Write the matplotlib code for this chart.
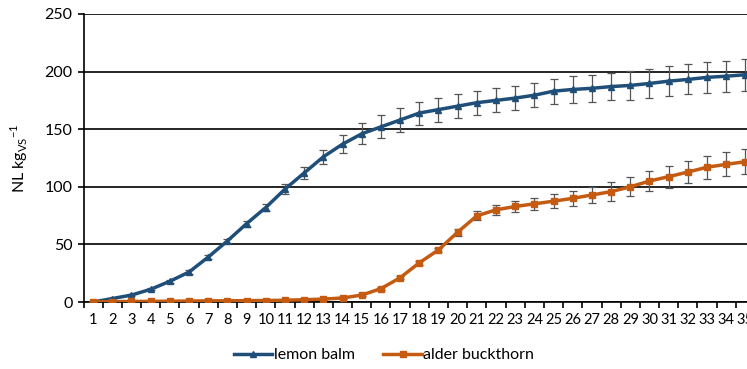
import matplotlib.pyplot as plt
from matplotlib.lines import Line2D
import numpy as np

plt.rcParams['font.family'] = ['Lato', 'DejaVu Sans']

days = list(range(1, 36))
lemon_balm = [0, 3, 6, 11, 18, 26, 39, 53, 68, 82, 98, 112, 126, 137, 146,
              152, 158, 164, 167, 170, 173, 175, 177, 179.5, 183, 184.5, 185.5, 187, 188, 189.7,
              191.7, 193.2, 195, 196, 197.3]
lemon_err = [0.3, 0.5, 0.8, 1, 1.2, 1.5, 1.8, 2, 2.5, 3, 4, 5, 6, 8, 9,
             10, 10, 10, 10.5, 10.5, 10.5, 10.5, 10.5, 10.5, 11, 11.5, 11.5, 12, 12.3, 12.6,
             12.9, 13, 13.4, 13.6, 14]
alder = [0, 0.3, 0.5, 0.5, 0.7, 0.8, 1, 1, 1.2, 1.3, 1.5, 2, 2.5, 3.5, 6,
         11.6, 21, 34, 45.2, 60.6, 74.8, 80, 82.9, 85.2, 87.5, 90, 92.9, 95.8, 100, 105,
         108.8, 112.8, 117, 119.5, 121.8]
alder_err = [0.2, 0.2, 0.2, 0.2, 0.2, 0.3, 0.3, 0.3, 0.3, 0.3, 0.4, 0.5, 0.5, 0.6, 0.8,
             1, 1.2, 1.5, 2, 3, 4, 4.5, 5, 5.5, 6, 6.5, 6.8, 8, 8.4, 8.8,
             9.5, 9.8, 10, 10.4, 11]

blue = '#1f4e79'
orange = '#c55a11'

fig = plt.figure(figsize=(7.47, 3.69), dpi=100)
ax = fig.add_axes([83.5 / 747, 67 / 369, 671.5 / 747, 288 / 369])

x = np.arange(len(days))
ax.errorbar(x, lemon_balm, yerr=lemon_err, color=blue, marker='^', markersize=5,
            linewidth=2.5, ecolor='#555555', elinewidth=0.9, capsize=3, capthick=0.9,
            zorder=3)
ax.errorbar(x, alder, yerr=alder_err, color=orange, marker='s', markersize=5,
            linewidth=2.5, ecolor='#555555', elinewidth=0.9, capsize=3, capthick=0.9,
            zorder=3)

ax.set_xlim(-0.5, len(days) - 0.5)
ax.set_ylim(0, 250)
ax.set_yticks(range(0, 251, 50))
ax.yaxis.grid(True, color='black', linewidth=1.2)
ax.set_axisbelow(True)
ax.set_xticks(x)
ax.set_xticklabels([str(d) for d in days], fontsize=10.5)
ax.set_xticks(np.arange(-0.5, len(days), 1), minor=True)
ax.tick_params(axis='x', which='major', length=0, pad=8)
ax.tick_params(axis='x', which='minor', length=4, width=1.2, direction='out')
ax.tick_params(axis='y', length=4, width=1.2, labelsize=11.5, pad=4)
for s in ['top', 'right']:
    ax.spines[s].set_visible(False)
ax.spines['left'].set_linewidth(1.2)
ax.spines['bottom'].set_linewidth(1.2)

ax.set_ylabel('NL kg$_{\\mathregular{VS}}$$^{\\mathregular{-1}}$', fontsize=11.5, labelpad=10)

handles = [Line2D([], [], color=blue, marker='^', markersize=5, linewidth=2.5),
           Line2D([], [], color=orange, marker='s', markersize=5, linewidth=2.5)]
fig.legend(handles, ['lemon balm', 'alder buckthorn'], loc='center',
           bbox_to_anchor=(384 / 747, 1 - 355 / 369), ncol=2, frameon=False,
           fontsize=11.5, handlelength=2.4, columnspacing=1.8, handletextpad=0.1)

fig.savefig('out.png', dpi=100)
